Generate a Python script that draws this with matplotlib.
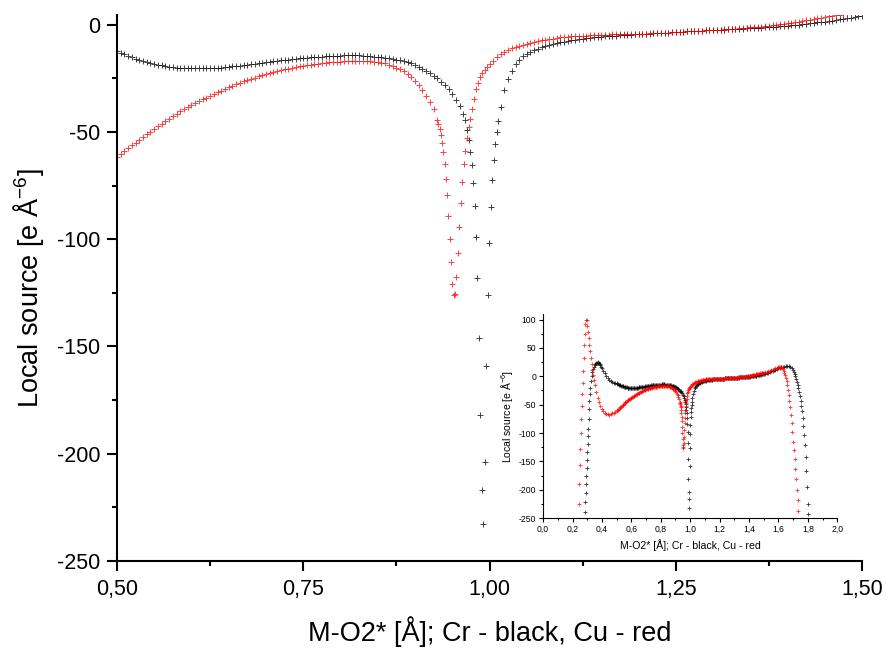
import numpy as np
import matplotlib
matplotlib.use("Agg")
import matplotlib.pyplot as plt
from matplotlib.ticker import MultipleLocator, FuncFormatter

plt.rcParams['font.family'] = ['Liberation Sans', 'DejaVu Sans']
plt.rcParams['mathtext.default'] = 'regular'
plt.rcParams['axes.unicode_minus'] = False

# M-O2* distance grid step used for the smooth parts (Angstrom)
STEP = 0.005

# ---- Cr (black) ----
cr_left_x = [0.286, 0.288, 0.290, 0.292, 0.294, 0.296, 0.298, 0.300, 0.302, 0.304,
             0.306, 0.309, 0.312, 0.315, 0.318, 0.321, 0.325, 0.330, 0.335, 0.340,
             0.345, 0.350, 0.355, 0.360, 0.365, 0.370, 0.375, 0.380, 0.385, 0.390,
             0.395, 0.400, 0.410, 0.420, 0.430, 0.440, 0.450, 0.460, 0.470, 0.480, 0.490]
cr_left_y = [-239, -222, -205, -190, -176, -161, -147, -133, -119, -106,
             -93, -75, -58, -44, -31, -20, -9, 0, 7, 12.5,
             16.5, 19.5, 21.8, 23.3, 24.2, 24.5, 24.2, 23.2, 21.6, 19.6,
             17.3, 14.8, 9.8, 5.0, 0.8, -2.8, -5.7, -8.0, -9.8, -11.1, -12.0]

cr_a_start = 0.500
cr_a_y = [-12.5, -13.2, -13.9, -14.6, -15.2, -15.8, -16.4, -16.9, -17.4, -17.9,
          -18.3, -18.7, -19.0, -19.3, -19.6, -19.8, -20.0, -20.1, -20.2, -20.3,
          -20.3, -20.4, -20.4, -20.4, -20.3, -20.3, -20.2, -20.1, -20.0, -19.8,
          -19.7, -19.5, -19.3, -19.1, -18.9, -18.7, -18.5, -18.2, -18.0, -17.8,
          -17.5, -17.3, -17.1, -16.9, -16.7, -16.5, -16.3, -16.1, -15.9, -15.7,
          -15.5, -15.4, -15.2, -15.1, -15.0, -14.9, -14.8, -14.7, -14.6, -14.5,
          -14.5, -14.4, -14.4, -14.4, -14.4, -14.4, -14.5, -14.6, -14.7, -14.9,
          -15.0, -15.2, -15.4, -15.7, -16.0, -16.3, -16.6, -17.0, -17.5, -18.1,
          -18.8, -19.6, -20.5, -21.5, -22.6, -23.8, -25.1, -26.6, -28.3, -30.2,
          -32.4, -35.0, -38.0, -41.5]

cr_dip_x = [0.9675, 0.970, 0.972, 0.974, 0.976, 0.978, 0.980, 0.982, 0.9838, 0.9858,
            0.9878, 0.9898, 0.9917, 0.9937, 0.9957, 0.9977, 0.9997, 1.0017, 1.0037,
            1.0057, 1.0077, 1.0097, 1.012]
cr_dip_y = [-44.5, -49, -54, -59.5, -65.5, -74, -84.5, -99, -118, -146,
            -182, -217, -233, -204, -159, -126, -102, -85, -72.5,
            -63, -55.5, -50, -44.7]

cr_b_start = 1.015
cr_b_y = [-38.5, -30.5, -25.3, -21.4, -18.4, -16.3, -14.8, -13.6, -12.7, -11.9,
          -11.2, -10.6, -10.1, -9.6, -9.1, -8.6, -8.2, -7.9, -7.6, -7.3,
          -7.1, -6.8, -6.6, -6.4, -6.2, -6.0, -5.8, -5.7, -5.5, -5.4,
          -5.2, -5.1, -5.0, -4.9, -4.8, -4.7, -4.6, -4.5, -4.4, -4.3,
          -4.2, -4.1, -4.0, -3.9, -3.8, -3.7, -3.6, -3.5, -3.4, -3.3,
          -3.2, -3.1, -3.0, -2.9, -2.8, -2.7, -2.6, -2.6, -2.5, -2.4,
          -2.3, -2.2, -2.2, -2.1, -2.0, -1.9, -1.8, -1.7, -1.6, -1.5,
          -1.4, -1.3, -1.2, -1.1, -1.0, -0.8, -0.7, -0.5, -0.4, -0.2,
          0.0, 0.2, 0.4, 0.6, 0.8, 1.0, 1.2, 1.4, 1.7, 1.9,
          2.2, 2.4, 2.7, 3.0, 3.3, 3.6, 3.9, 4.2]

cr_right_x = [1.51, 1.52, 1.53, 1.54, 1.55, 1.56, 1.57, 1.58, 1.59, 1.60,
              1.61, 1.62, 1.63, 1.64, 1.65, 1.66, 1.67, 1.68, 1.69, 1.70,
              1.705, 1.71, 1.715, 1.72, 1.725, 1.73, 1.735, 1.74, 1.745, 1.75,
              1.755, 1.76, 1.765, 1.77, 1.775, 1.78, 1.785, 1.79, 1.795, 1.80, 1.803]
cr_right_y = [4.9, 5.7, 6.6, 7.6, 8.6, 9.6, 10.7, 11.8, 12.9, 13.9,
              14.9, 15.8, 16.6, 17.3, 17.8, 18.0, 17.7, 16.6, 14.3, 10.5,
              7.5, 4.0, 0.0, -4.5, -9.5, -15, -21, -28, -35, -43,
              -52, -62, -74, -88, -104, -122, -143, -167, -195, -225, -242]

# ---- Cu (red) ----
cu_left_x = [0.243, 0.246, 0.249, 0.252, 0.255, 0.258, 0.261, 0.264, 0.268, 0.272,
             0.276, 0.280, 0.284, 0.288, 0.292, 0.296, 0.300, 0.305, 0.310, 0.315,
             0.320, 0.325, 0.330, 0.335, 0.340, 0.345, 0.350, 0.360, 0.370, 0.380,
             0.390, 0.400, 0.410, 0.420, 0.430, 0.440, 0.450, 0.460, 0.470, 0.480, 0.490]
cu_left_y = [-225, -190, -157, -128, -100, -75, -52, -32, -12, 10,
             32, 55, 75, 92, 100, 99, 88, 78, 68, 56,
             45, 33, 22, 11, 2, -7, -15, -28, -38, -46,
             -52, -57, -61, -64, -66, -67, -67.5, -67, -65.5, -64.3, -63.0]

cu_a_start = 0.500
cu_a_y = [-61.5, -60.2, -58.9, -57.6, -56.3, -55.0, -53.8, -52.5, -51.2, -49.9,
          -48.6, -47.4, -46.1, -44.9, -43.8, -42.6, -41.5, -40.5, -39.5, -38.5,
          -37.5, -36.6, -35.7, -34.8, -34.0, -33.2, -32.4, -31.6, -30.8, -30.0,
          -29.3, -28.6, -27.9, -27.2, -26.5, -25.9, -25.3, -24.7, -24.1, -23.6,
          -23.1, -22.6, -22.1, -21.7, -21.3, -20.9, -20.5, -20.1, -19.8, -19.5,
          -19.2, -18.9, -18.7, -18.4, -18.2, -18.0, -17.8, -17.6, -17.5, -17.3,
          -17.2, -17.1, -17.0, -16.9, -16.9, -16.9, -16.9, -16.9, -17.0, -17.2,
          -17.4, -17.7, -18.1, -18.6, -19.3, -20.0, -20.8, -21.7, -22.9, -24.4,
          -26.2, -28.3, -30.7, -33.3, -36.2, -39.5]

cu_dip_x = [0.9290, 0.9310, 0.9330, 0.9350, 0.9366, 0.9382, 0.9398, 0.9414, 0.9430,
            0.9448, 0.9466, 0.9484, 0.9502, 0.9520, 0.9538, 0.9556, 0.9574, 0.9594,
            0.9614, 0.9634, 0.9654, 0.9676, 0.9698, 0.9720, 0.9742, 0.9766, 0.9790,
            0.9815, 0.9845, 0.9875, 0.9905, 0.9935, 0.9965]
cu_dip_y = [-44.5, -46.5, -48.5, -51.5, -55.0, -59.5, -65.2, -71.8, -79.6,
            -89.0, -99.8, -110.6, -120.7, -126.2, -125.4, -117.6, -106.3, -94.4,
            -83.0, -73.4, -65.2, -58.7, -53.0, -47.8, -43.9, -39.3, -34.6,
            -30.0, -27.0, -24.6, -22.6, -21.0, -19.6]

cu_b_start = 1.000
cu_b_y = [-18.4, -16.9, -15.1, -13.8, -12.7, -11.7, -11.0, -10.4, -9.8, -9.4,
          -9.0, -8.6, -8.2, -7.8, -7.4, -7.1, -6.8, -6.5, -6.2, -5.9,
          -5.7, -5.6, -5.5, -5.4, -5.3, -5.2, -5.1, -5.0, -4.9, -4.8,
          -4.8, -4.7, -4.7, -4.6, -4.6, -4.5, -4.5, -4.4, -4.4, -4.3,
          -4.3, -4.2, -4.2, -4.1, -4.0, -4.0, -3.9, -3.8, -3.7, -3.6,
          -3.5, -3.4, -3.3, -3.2, -3.1, -3.0, -2.9, -2.8, -2.7, -2.6,
          -2.5, -2.4, -2.3, -2.2, -2.1, -2.0, -1.9, -1.7, -1.6, -1.5,
          -1.3, -1.2, -1.0, -0.9, -0.7, -0.5, -0.3, -0.1, 0.1, 0.4,
          0.6, 0.9, 1.1, 1.4, 1.7, 2.0, 2.3, 2.6, 2.9, 3.2,
          3.5, 3.8, 4.1, 4.4, 4.7, 5.0, 5.3, 5.6, 5.9, 6.2, 6.5]

cu_right_x = [1.51, 1.52, 1.53, 1.54, 1.55, 1.56, 1.57, 1.58, 1.59, 1.60,
              1.605, 1.61, 1.615, 1.62, 1.625, 1.63, 1.635, 1.64, 1.645, 1.65,
              1.655, 1.66, 1.665, 1.67, 1.675, 1.68, 1.685, 1.69, 1.695, 1.70,
              1.705, 1.71, 1.715, 1.72, 1.725, 1.73, 1.735]
cu_right_y = [7.1, 7.8, 8.6, 9.5, 10.5, 11.6, 12.8, 14.0, 15.2, 16.2,
              16.6, 16.8, 16.6, 15.8, 14.5, 12.5, 9.8, 6.4, 2.2, -3,
              -9, -16, -24, -33, -43, -55, -68, -83, -99, -115,
              -130, -146, -163, -181, -200, -219, -238]


def grid(start, values):
    return list(np.round(start + STEP * np.arange(len(values)), 4))


cr_x = cr_left_x + grid(cr_a_start, cr_a_y) + cr_dip_x + grid(cr_b_start, cr_b_y) + cr_right_x
cr_y = cr_left_y + cr_a_y + cr_dip_y + cr_b_y + cr_right_y
cu_x = cu_left_x + grid(cu_a_start, cu_a_y) + cu_dip_x + grid(cu_b_start, cu_b_y) + cu_right_x
cu_y = cu_left_y + cu_a_y + cu_dip_y + cu_b_y + cu_right_y


def comma(fmt):
    return FuncFormatter(lambda v, p: (fmt % v).replace('.', ','))


def style_axes(ax, tick_len, lw, fs):
    for side in ('top', 'right'):
        ax.spines[side].set_visible(False)
    for side in ('left', 'bottom'):
        ax.spines[side].set_linewidth(lw)
    ax.tick_params(which='major', direction='out', length=tick_len, width=lw, labelsize=fs)
    ax.tick_params(which='minor', direction='out', length=tick_len * 0.55, width=lw)


fig = plt.figure(figsize=(8.86, 6.5), dpi=100)

# main panel
ax = fig.add_axes([0.132, 0.137, 0.841, 0.840])
ax.plot(cr_x, cr_y, '+', color='black', ms=4, mew=0.7, alpha=0.75)
ax.plot(cu_x, cu_y, '+', color='red', ms=4, mew=0.7, alpha=0.75)
ax.set_xlim(0.5, 1.5)
ax.set_ylim(-250, 4.5)
ax.xaxis.set_major_locator(MultipleLocator(0.25))
ax.xaxis.set_minor_locator(MultipleLocator(0.125))
ax.yaxis.set_major_locator(MultipleLocator(50))
ax.yaxis.set_minor_locator(MultipleLocator(25))
ax.xaxis.set_major_formatter(comma('%.2f'))
ax.yaxis.set_major_formatter(FuncFormatter(lambda v, p: '%d' % v))
style_axes(ax, 7, 1.5, 15.5)
ax.tick_params(axis='x', pad=6)
ax.tick_params(axis='y', pad=5)
ax.set_xlabel('M-O2* [Å]; Cr - black, Cu - red', fontsize=19.5, labelpad=12)
ax.set_ylabel('Local source [e Å$^{-6}$]', fontsize=19.5, labelpad=8)

# inset with the full range
ins = fig.add_axes([0.613, 0.203, 0.332, 0.314])
ins.plot(cr_x, cr_y, '+', color='black', ms=2.5, mew=0.6, alpha=0.8)
ins.plot(cu_x, cu_y, '+', color='red', ms=2.5, mew=0.6, alpha=0.8)
ins.set_xlim(0.0, 2.0)
ins.set_ylim(-250, 110)
ins.xaxis.set_major_locator(MultipleLocator(0.2))
ins.xaxis.set_minor_locator(MultipleLocator(0.1))
ins.yaxis.set_major_locator(MultipleLocator(50))
ins.yaxis.set_minor_locator(MultipleLocator(25))
ins.xaxis.set_major_formatter(comma('%.1f'))
ins.yaxis.set_major_formatter(FuncFormatter(lambda v, p: '%d' % v))
style_axes(ins, 3, 0.8, 6.2)
ins.tick_params(which='both', pad=2)
ins.set_xlabel('M-O2* [Å]; Cr - black, Cu - red', fontsize=7.6, labelpad=4)
ins.set_ylabel('Local source [e Å$^{-6}$]', fontsize=7.5, labelpad=3)

fig.savefig('out.png', dpi=100)
